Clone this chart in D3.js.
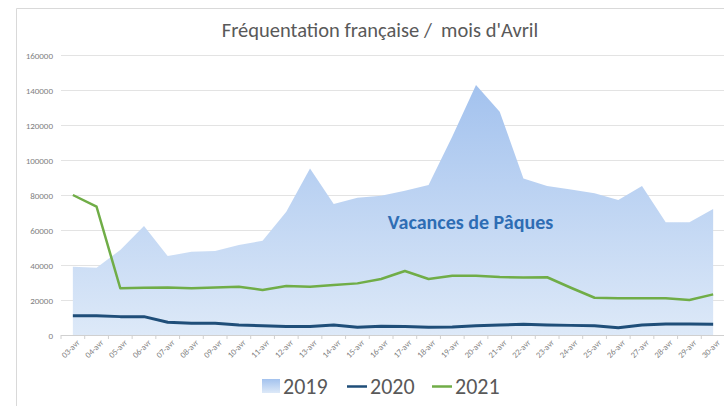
<!DOCTYPE html>
<html>
<head>
<meta charset="utf-8">
<script src="https://cdn.jsdelivr.net/npm/d3@7"></script>
<style>
  body { margin: 0; background: #fff; }
  text { font-family: Carlito, "Open Sans", sans-serif; }
</style>
</head>
<body>
<script>
// Les données
var jours = ["03-avr", "04-avr", "05-avr", "06-avr", "07-avr", "08-avr", "09-avr", "10-avr",
             "11-avr", "12-avr", "13-avr", "14-avr", "15-avr", "16-avr", "17-avr", "18-avr",
             "19-avr", "20-avr", "21-avr", "22-avr", "23-avr", "24-avr", "25-avr", "26-avr",
             "27-avr", "28-avr", "29-avr", "30-avr"];
var valeurs2019 = [39000, 38500, 48600, 62300, 45100, 47600, 48000, 51400, 53900, 70500,
                   95200, 74900, 78500, 79600, 82500, 85700, 113500, 142900, 127600, 89500,
                   85100, 83200, 81000, 77100, 85100, 64400, 64400, 72000];
var valeurs2020 = [11000, 11000, 10500, 10500, 7300, 6700, 6700, 5700, 5300, 4800,
                   4800, 5700, 4400, 5000, 4800, 4400, 4600, 5300, 5700, 6100,
                   5700, 5500, 5300, 4200, 5700, 6300, 6300, 6100];
var valeurs2021 = [80000, 73300, 26700, 27000, 27200, 26700, 27200, 27600, 25700, 28000,
                   27600, 28600, 29500, 32000, 36600, 32000, 33900, 33900, 33100, 32800,
                   33000, 27000, 21300, 21000, 21000, 21000, 20000, 23200];
var ticksY = [0, 20000, 40000, 60000, 80000, 100000, 120000, 140000, 160000];

// Les dimensions
var W = 724, H = 406;
var margin = {top: 55, right: 0, bottom: 71, left: 61};
var width = 725 - margin.left - margin.right;
var height = 335 - margin.top;

var root = d3.select("body").append("svg")
             .attr("width", W)
             .attr("height", H);

// dégradé pour l'aire 2019
var grad = root.append("defs").append("linearGradient")
               .attr("id", "bleu")
               .attr("x1", 0).attr("y1", 0).attr("x2", 0).attr("y2", 1);
grad.append("stop").attr("offset", "0%").attr("stop-color", "#a3c2ee");
grad.append("stop").attr("offset", "100%").attr("stop-color", "#dde9f8");

// cadre
root.append("path")
    .attr("d", "M16.5," + (H + 1) + "V8.5H" + (W + 1))
    .attr("fill", "none")
    .attr("stroke", "#d9d9d9");

// titre
root.append("text")
    .attr("x", 380)
    .attr("y", 37)
    .attr("text-anchor", "middle")
    .attr("font-size", "20.5px")
    .attr("fill", "#595959")
    .style("white-space", "pre")
    .text("Fréquentation française /  mois d'Avril");

var svg = root.append("g")
              .attr("transform", "translate(" + margin.left + "," + margin.top + ")");

var x = d3.scalePoint()
          .domain(jours)
          .range([0, width])
          .padding(0.5);
var pas = x.step();

var y = d3.scaleLinear()
          .domain([0, 160000])
          .range([height, 0]);

// grille
svg.append("g")
   .selectAll("line")
   .data(ticksY)
   .join("line")
   .attr("x1", 0)
   .attr("x2", width)
   .attr("y1", d => y(d) + 0.5)
   .attr("y2", d => y(d) + 0.5)
   .attr("stroke", d => d === 0 ? "#d0d0d0" : "#e3e3e3")
   .attr("stroke-width", 1.2);

// axe Y
svg.append("g")
   .selectAll("text")
   .data(ticksY)
   .join("text")
   .attr("x", -8)
   .attr("y", d => y(d) + 3.5)
   .attr("text-anchor", "end")
   .attr("font-size", "9px")
   .attr("fill", "#7f7f7f")
   .text(d => d);

// aire 2019
var aire = d3.area()
             .x((d, i) => x(jours[i]))
             .y0(y(0))
             .y1(d => y(d));
svg.append("path")
   .attr("d", aire(valeurs2019))
   .attr("fill", "url(#bleu)");

// axe X
const axeX = d3.axisBottom(x).tickSize(0).tickPadding(6);
const groupeX = svg.append("g")
                   .attr("transform", "translate(0," + height + ")")
                   .call(axeX);
groupeX.select(".domain").remove();
groupeX.selectAll("text")
       .attr("font-size", "8.5px")
       .attr("fill", "#7f7f7f")
       .attr("text-anchor", "end")
       .attr("dy", "0.3em")
       .attr("transform", "translate(1,2) rotate(-45)");

// petites graduations entre les catégories
svg.append("g")
   .selectAll("line")
   .data(d3.range(jours.length + 1))
   .join("line")
   .attr("x1", i => i * pas)
   .attr("x2", i => i * pas)
   .attr("y1", height)
   .attr("y2", height + 4)
   .attr("stroke", "#d0d0d0");

// lignes 2020 et 2021
var ligne = d3.line()
              .x((d, i) => x(jours[i]))
              .y(d => y(d));
svg.append("path")
   .attr("d", ligne(valeurs2021))
   .attr("fill", "none")
   .attr("stroke", "#70ad47")
   .attr("stroke-width", 2.5)
   .attr("stroke-linejoin", "round");
svg.append("path")
   .attr("d", ligne(valeurs2020))
   .attr("fill", "none")
   .attr("stroke", "#1f4e79")
   .attr("stroke-width", 3)
   .attr("stroke-linejoin", "round");

// annotation
svg.append("text")
   .attr("x", x("17-avr") - 17)
   .attr("y", y(60500))
   .attr("font-size", "20px")
   .attr("font-weight", "bold")
   .attr("fill", "#2e6db4")
   .text("Vacances de Pâques");

// légende
var leg = root.append("g").attr("transform", "translate(0,386)");
leg.append("rect")
   .attr("x", 262).attr("y", -7)
   .attr("width", 18).attr("height", 14)
   .attr("fill", "url(#bleu)");
leg.append("text").attr("x", 283).attr("y", 7.5)
   .attr("font-size", "22px").attr("fill", "#595959").text("2019");
leg.append("line").attr("x1", 347).attr("x2", 367).attr("y1", 0.5).attr("y2", 0.5)
   .attr("stroke", "#1f4e79").attr("stroke-width", 2.5);
leg.append("text").attr("x", 370).attr("y", 7.5)
   .attr("font-size", "22px").attr("fill", "#595959").text("2020");
leg.append("line").attr("x1", 432).attr("x2", 452).attr("y1", 0.5).attr("y2", 0.5)
   .attr("stroke", "#70ad47").attr("stroke-width", 2.5);
leg.append("text").attr("x", 455).attr("y", 7.5)
   .attr("font-size", "22px").attr("fill", "#595959").text("2021");
</script>
</body>
</html>
